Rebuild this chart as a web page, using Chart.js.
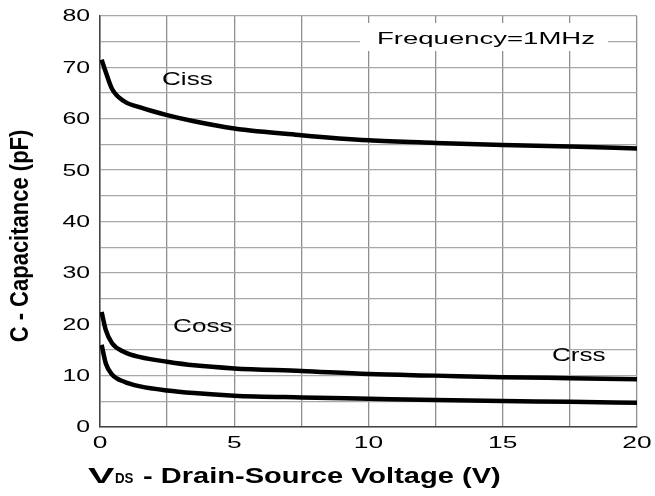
<!DOCTYPE html>
<html>
<head>
<meta charset="utf-8">
<script src="https://cdn.jsdelivr.net/npm/chart.js@4"></script>
<style>
  body { margin: 0; background: #fff; }
  canvas { display: block; }
</style>
</head>
<body>
<canvas id="capChart" width="655" height="496"></canvas>
<script>
// values
const vds  = [0.06, 0.22, 0.45, 0.9, 1.5, 2.5, 3.5, 5, 7.5, 10, 12.5, 15, 17.5, 20];
const ciss = [71.5, 69.0, 65.8, 63.4, 62.2, 60.7, 59.5, 58.1, 56.8, 55.8, 55.3, 54.9, 54.6, 54.2];
const coss = [22.4, 18.8, 16.3, 14.6, 13.6, 12.7, 12.0, 11.4, 10.9, 10.3, 10.0, 9.7, 9.5, 9.3];
const crss = [16.0, 12.3, 10.2, 8.8, 7.9, 7.1, 6.6, 6.1, 5.75, 5.5, 5.25, 5.05, 4.9, 4.7];

const xTicks = [0, 5, 10, 15, 20];
const yTicks = [0, 10, 20, 30, 40, 50, 60, 70, 80];
const seriesNames = ['Ciss', 'Coss', 'Crss'];

function pts(ys) {
  return vds.map((v, i) => ({ x: v, y: ys[i] }));
}

// stretched text, the source image is wider than it is tall
function drawText(ctx, txt, x, y, font, sx, align) {
  ctx.save();
  ctx.font = font;
  ctx.translate(x, y);
  ctx.scale(sx, 1);
  ctx.textAlign = align || 'left';
  ctx.fillText(txt, 0, 0);
  ctx.restore();
}

const labelsPlugin = {
  id: 'labelsPlugin',
  afterDraw(chart) {
    const ctx = chart.ctx;
    const xs = chart.scales.x, ys = chart.scales.y;
    ctx.fillStyle = '#000';
    ctx.textBaseline = 'middle';

    yTicks.forEach(t => {
      drawText(ctx, String(t), 90, ys.getPixelForValue(t) + 1, '16px "Liberation Sans", Arial', 1.55, 'right');
    });
    xTicks.forEach(t => {
      drawText(ctx, String(t), xs.getPixelForValue(t), 443, '17px "Liberation Sans", Arial', 1.55, 'center');
    });

    ctx.textBaseline = 'alphabetic';
    // curve names
    const namePos = [[2.31, 66.6], [2.72, 18.5], [16.83, 12.85]];
    seriesNames.forEach((n, i) => {
      drawText(ctx, n, xs.getPixelForValue(namePos[i][0]), ys.getPixelForValue(namePos[i][1]),
        '18px "Liberation Sans", Arial', 1.45, 'left');
    });

    // frequency note on white box
    ctx.fillStyle = '#fff';
    ctx.fillRect(360, 23, 248, 28);
    ctx.fillStyle = '#000';
    drawText(ctx, 'Frequency=1MHz', 377, 44, '16px "Liberation Sans", Arial', 1.72, 'left');

    // axis titles
    drawText(ctx, 'V', 88, 483, 'bold 22px "Liberation Sans", Arial', 1.8, 'left');
    drawText(ctx, 'DS', 115, 483, 'bold 14px "Liberation Sans", Arial', 0.95, 'left');
    drawText(ctx, '- Drain-Source Voltage (V)', 143, 483, 'bold 22px "Liberation Sans", Arial', 1.32, 'left');

    ctx.save();
    ctx.translate(28, 236);
    ctx.rotate(-Math.PI / 2);
    ctx.scale(1, 1.2);
    ctx.font = 'bold 22px "Liberation Sans", Arial';
    ctx.textAlign = 'center';
    ctx.fillText('C - Capacitance (pF)', 0, 0);
    ctx.restore();
  }
};

const lineStyle = {
  borderColor: '#000',
  borderWidth: 4.5,
  pointRadius: 0,
  fill: false,
  cubicInterpolationMode: 'monotone'
};

new Chart(document.getElementById('capChart'), {
  type: 'line',
  data: {
    datasets: [
      { label: seriesNames[0], data: pts(ciss), ...lineStyle },
      { label: seriesNames[1], data: pts(coss), ...lineStyle },
      { label: seriesNames[2], data: pts(crss), ...lineStyle }
    ]
  },
  options: {
    responsive: false,
    animation: false,
    devicePixelRatio: 1,
    layout: { padding: { top: 16, right: 18, left: 0, bottom: 0 } },
    plugins: { legend: { display: false }, tooltip: { enabled: false } },
    scales: {
      x: {
        type: 'linear', min: 0, max: 20,
        ticks: { stepSize: 2.5, display: false },
        grid: { color: '#8f8f8f', lineWidth: 1.3, drawTicks: false },
        border: { color: '#444', width: 1.5 },
        afterFit(scale) { scale.height = 69; }
      },
      y: {
        min: 0, max: 80,
        ticks: { stepSize: 5, display: false },
        grid: { color: '#a8a8a8', lineWidth: 1.3, drawTicks: false },
        border: { color: '#444', width: 1.5 },
        afterFit(scale) { scale.width = 100; }
      }
    }
  },
  plugins: [labelsPlugin]
});
</script>
</body>
</html>
